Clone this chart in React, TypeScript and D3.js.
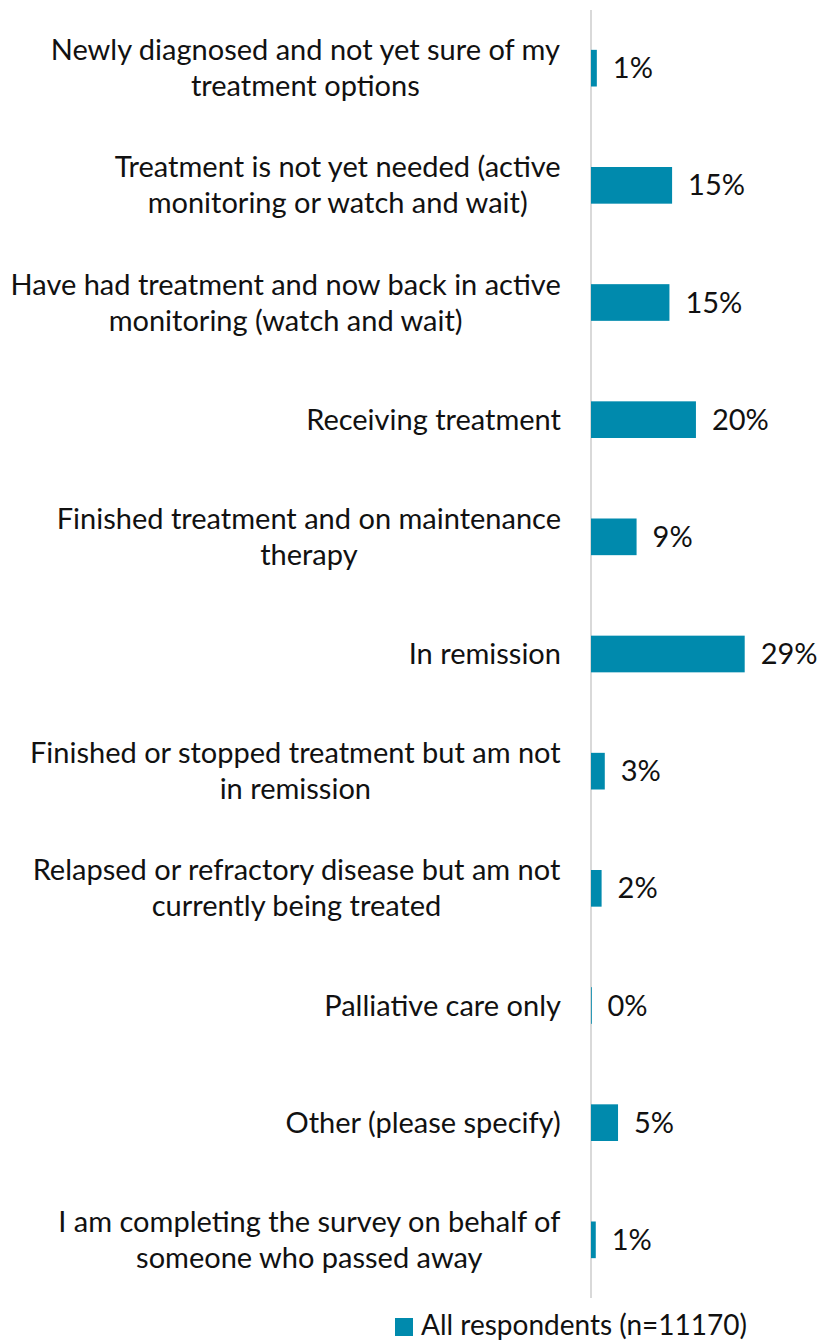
import React, { useMemo } from 'react';
import * as d3 from 'd3';

const categories = [
  'Newly diagnosed and not yet sure of my\ntreatment options',
  'Treatment is not yet needed (active\nmonitoring or watch and wait)',
  'Have had treatment and now back in active\nmonitoring (watch and wait)',
  'Receiving treatment',
  'Finished treatment and on maintenance\ntherapy',
  'In remission',
  'Finished or stopped treatment but am not\nin remission',
  'Relapsed or refractory disease but am not\ncurrently being treated',
  'Palliative care only',
  'Other (please specify)',
  'I am completing the survey on behalf of\nsomeone who passed away',
];

// percent of respondents
const values = [1.1, 15.3, 14.8, 19.8, 8.6, 29.0, 2.6, 2.0, 0.1, 5.1, 0.9];

const seriesName = 'All respondents (n=11170)';

const width = 822;
const height = 1341;
const margin = { top: 10, right: 49, bottom: 43, left: 591 };
const fontSize = 29;
const fontFamily = 'Lato, "Open Sans", sans-serif';
const barColor = '#008aad';
const lineHeight = 36;

function measure(text: string): number {
  const canvas = document.createElement('canvas');
  const ctx = canvas.getContext('2d');
  if (!ctx) return text.length * fontSize * 0.5;
  ctx.font = `${fontSize}px ${fontFamily}`;
  return ctx.measureText(text).width;
}

export default function App() {
  const yScale = d3
    .scaleBand<string>()
    .domain(categories)
    .range([margin.top, height - margin.bottom])
    .paddingInner(0.687)
    .paddingOuter(0.34);

  const xScale = d3
    .scaleLinear()
    .domain([0, 30])
    .range([margin.left, margin.left + 159]);

  const fmt = d3.format('.0f');

  const labelRight = margin.left - 30;

  const labelBlocks = useMemo(
    () =>
      categories.map(c => {
        const lines = c.split('\n');
        const maxW = d3.max(lines, l => measure(l)) || 0;
        return { lines, cx: labelRight - maxW / 2 };
      }),
    []
  );

  return (
    <svg
      width={width}
      height={height}
      style={{ position: 'absolute', left: 0, top: 0, background: '#fff' }}
      fontFamily={fontFamily}
      fontSize={fontSize}
    >
      {/* category axis line */}
      <line
        x1={xScale(0)}
        x2={xScale(0)}
        y1={margin.top}
        y2={height - margin.bottom}
        stroke="#d9d9d9"
        strokeWidth={2}
      />

      {categories.map((c, i) => {
        const y0 = yScale(c) as number;
        const bw = yScale.bandwidth();
        const cy = y0 + bw / 2;
        const block = labelBlocks[i];
        const n = block.lines.length;
        return (
          <g key={c}>
            <rect
              x={xScale(0)}
              y={y0}
              width={Math.max(0.8, xScale(values[i]) - xScale(0))}
              height={bw}
              fill={barColor}
            />
            <text
              x={xScale(values[i]) + 16}
              y={cy}
              dy="0.35em"
              fill="#111"
            >
              {fmt(values[i])}%
            </text>
            <text textAnchor="middle" fill="#111">
              {block.lines.map((l, j) => (
                <tspan
                  key={j}
                  x={block.cx}
                  y={cy + (j - (n - 1) / 2) * lineHeight}
                  dy="0.35em"
                >
                  {l}
                </tspan>
              ))}
            </text>
          </g>
        );
      })}

      {/* legend */}
      <g transform={`translate(395, 1318)`}>
        <rect x={0} y={0} width={18} height={18} fill={barColor} />
        <text x={26} y={17} fill="#111" fontSize={28}>
          {seriesName}
        </text>
      </g>
    </svg>
  );
}
